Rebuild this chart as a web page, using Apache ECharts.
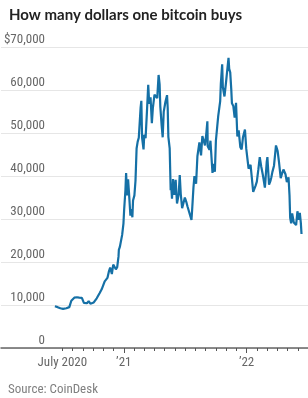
<!DOCTYPE html>
<html>
<head>
<meta charset="utf-8">
<script src="https://cdn.jsdelivr.net/npm/echarts@6/dist/echarts.min.js"></script>
<style>
html,body{margin:0;padding:0;background:#fff;}
#c{width:308px;height:398px;}
</style>
</head>
<body>
<div id="c"></div>
<script>
var dates = [
'2020-06-09','2020-06-13','2020-06-17','2020-06-21','2020-06-25','2020-06-29','2020-07-03','2020-07-08','2020-07-13','2020-07-18','2020-07-22','2020-07-26','2020-07-28','2020-08-02','2020-08-06','2020-08-10','2020-08-14','2020-08-17','2020-08-21','2020-08-25','2020-08-29','2020-09-01','2020-09-04','2020-09-08','2020-09-13','2020-09-18','2020-09-23','2020-09-28','2020-10-03','2020-10-08','2020-10-12','2020-10-17','2020-10-21','2020-10-27','2020-11-01','2020-11-05','2020-11-09','2020-11-13','2020-11-17','2020-11-21','2020-11-24','2020-11-26','2020-11-30','2020-12-04','2020-12-08','2020-12-12','2020-12-16','2020-12-17','2020-12-20','2020-12-24','2020-12-27','2020-12-31',
'2021-01-02','2021-01-04','2021-01-06','2021-01-08','2021-01-11','2021-01-14','2021-01-17','2021-01-21','2021-01-24','2021-01-27','2021-01-29','2021-02-02','2021-02-05','2021-02-08','2021-02-11','2021-02-14','2021-02-16','2021-02-19','2021-02-21','2021-02-23','2021-02-27','2021-03-01','2021-03-05','2021-03-09','2021-03-13','2021-03-16','2021-03-20','2021-03-24','2021-03-27','2021-04-01','2021-04-05','2021-04-09','2021-04-13','2021-04-16','2021-04-18','2021-04-22','2021-04-25','2021-04-28','2021-05-03','2021-05-08','2021-05-10','2021-05-12','2021-05-16','2021-05-19','2021-05-21','2021-05-23','2021-05-26','2021-05-30','2021-06-03','2021-06-07','2021-06-12','2021-06-15','2021-06-18','2021-06-22','2021-06-26','2021-06-30','2021-07-05','2021-07-08','2021-07-13','2021-07-20','2021-07-22','2021-07-26','2021-07-29','2021-08-03','2021-08-07','2021-08-13','2021-08-18','2021-08-22','2021-08-25','2021-08-30','2021-09-03','2021-09-06','2021-09-07','2021-09-12','2021-09-15','2021-09-21','2021-09-24','2021-09-28','2021-10-01','2021-10-05','2021-10-08','2021-10-14','2021-10-16','2021-10-20','2021-10-22','2021-10-27','2021-10-31','2021-11-04','2021-11-08','2021-11-10','2021-11-13','2021-11-16','2021-11-18','2021-11-22','2021-11-26','2021-11-30','2021-12-04','2021-12-08','2021-12-13','2021-12-17','2021-12-21','2021-12-27','2021-12-31',
'2022-01-04','2022-01-07','2022-01-10','2022-01-13','2022-01-17','2022-01-21','2022-01-24','2022-01-28','2022-02-01','2022-02-05','2022-02-09','2022-02-13','2022-02-18','2022-02-23','2022-02-24','2022-02-28','2022-03-02','2022-03-07','2022-03-11','2022-03-14','2022-03-17','2022-03-22','2022-03-28','2022-03-30','2022-04-02','2022-04-06','2022-04-11','2022-04-15','2022-04-19','2022-04-25','2022-04-29','2022-05-04','2022-05-07','2022-05-09','2022-05-12','2022-05-15','2022-05-20','2022-05-25','2022-05-27','2022-05-31','2022-06-04','2022-06-07','2022-06-10','2022-06-12'
];
var prices = [
9700,9450,9500,9650,9250,9150,9100,9250,9250,9200,9500,9950,11000,11100,11700,11900,11800,12250,11700,11400,11650,11900,10500,10250,10400,10900,10300,10700,10600,10900,11550,11400,12800,13650,13750,15500,15300,16300,17700,18700,19100,17200,19400,19200,18300,18800,21300,22800,23500,23700,26300,29000,
32100,31900,36800,40700,35500,39200,35800,30800,32300,30400,34300,35500,38900,46400,48000,48900,49200,55900,57500,48900,46200,49600,48800,54800,61200,56800,58300,52300,55800,58900,58700,58100,63500,61300,56200,51700,49000,54900,57200,58800,55800,49100,46400,36700,37300,34700,39300,35600,39100,33600,35800,40200,35800,32500,32200,35000,33800,32900,32700,29800,32100,37300,40000,38200,44600,47800,44800,49300,49000,47100,50000,52700,46900,46100,48200,40700,42800,41000,48200,51500,53900,57400,61500,66000,60700,58500,61300,61000,67500,64900,64100,60200,56900,56300,53600,57000,49200,50600,46700,46200,49000,50800,46300,
46500,41700,41800,42600,42200,36300,36700,37700,38700,41400,44400,42200,40000,37300,38300,43200,44400,38000,38800,39700,40900,42400,47100,47100,45800,43200,39500,40600,41500,40400,38600,39700,35500,30300,29000,31300,29200,29600,28600,31800,29800,31400,29100,26500
];
var yTickValues = [0,10000,20000,30000,40000,50000,60000,70000];
var yTickLabels = ['0','10,000','20,000','30,000','40,000','50,000','60,000','$70,000'];
var xLabelMonths = [6,12,24];
var xLabelTexts = ['July 2020','\u201921','\u201922'];
var titleText = 'How many dollars one bitcoin buys';
var sourceText = 'Source: CoinDesk';

function toMonths(s){
  var p = s.split('-'); var y=+p[0], m=+p[1], d=+p[2];
  var dim = new Date(y, m, 0).getDate();
  return (y-2020)*12 + (m-1) + (d-1)/dim;
}
var seriesData = dates.map(function(d,i){ return [toMonths(d), prices[i]]; });
var tickMonths = [];
for (var k=6;k<=29;k++) tickMonths.push(k);

var FONT = '"Liberation Sans Narrow","Roboto Condensed","Roboto",sans-serif';
var chart = echarts.init(document.getElementById('c'), null, {renderer:'canvas'});
chart.setOption({
  animation:false,
  title:[
    {text:titleText,left:4,top:3,textStyle:{fontFamily:'Lato, "Noto Sans", sans-serif',fontSize:15,fontWeight:'bold',color:'#222'}},
    {text:sourceText,left:3,top:378,textStyle:{fontFamily:FONT,fontSize:13,fontWeight:'normal',color:'#808080'}}
  ],
  grid:{left:1,right:0,top:47,bottom:50,containLabel:false},
  xAxis:[{
    type:'value',min:0,max:30,interval:1,
    axisLine:{show:true,lineStyle:{color:'#666',width:1.5}},
    axisTick:{show:true,customValues:tickMonths,length:3,lineStyle:{color:'#555',width:1}},
    axisLabel:{show:true,customValues:xLabelMonths,margin:8,fontFamily:FONT,fontSize:13,color:'#666',
      formatter:function(v){var i=xLabelMonths.indexOf(Math.round(v));return i>=0?xLabelTexts[i]:'';}},
    splitLine:{show:false}
  },{
    type:'value',min:0,max:30,interval:1,position:'bottom',
    axisLine:{show:false},
    axisTick:{show:true,customValues:[12,24],length:5,lineStyle:{color:'#555',width:1}},
    axisLabel:{show:false},splitLine:{show:false}
  }],
  yAxis:{
    type:'value',min:0,max:70000,interval:10000,
    axisLine:{show:false},axisTick:{show:false},
    splitLine:{show:true,lineStyle:{color:'#e6e6e6',width:1}},
    axisLabel:{inside:true,align:'right',verticalAlign:'bottom',margin:44,padding:[0,0,1,0],
      fontFamily:FONT,fontSize:13,color:'#666',
      formatter:function(v){var i=yTickValues.indexOf(v);return i>=0?yTickLabels[i]:'';}}
  },
  series:[{
    type:'line',data:seriesData,showSymbol:false,smooth:false,
    lineStyle:{color:'#1570a6',width:2.2},
    itemStyle:{color:'#1570a6'},z:3
  }]
});
</script>
</body>
</html>
